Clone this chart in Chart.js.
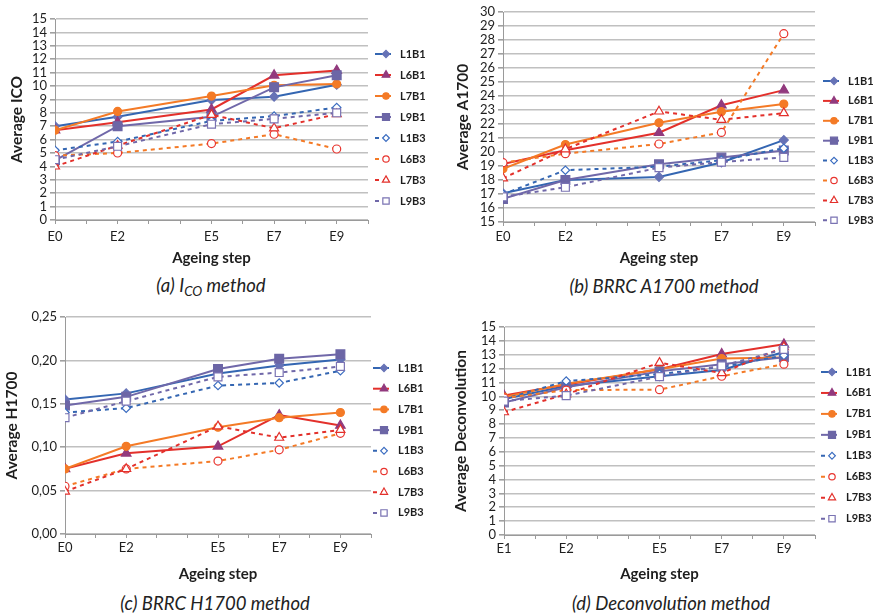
<!DOCTYPE html>
<html>
<head>
<meta charset="utf-8">
<script src="https://cdn.jsdelivr.net/npm/chart.js@4.4.1/dist/chart.umd.min.js"></script>
<style>
  body { margin: 0; background: #fff; }
  #wrap { position: relative; width: 874px; height: 613px; }
  canvas { position: absolute; }
  .cap { position: absolute; font: italic 18.5px Lato, sans-serif; color: #222; transform: translate(-50%, -50%); white-space: nowrap; }
  .cap sub { font-size: 0.72em; vertical-align: -0.3em; line-height: 0; }
</style>
</head>
<body>
<div id="wrap">
  <canvas id="icoChart" width="437" height="267" style="left:0;top:0"></canvas>
  <canvas id="a1700Chart" width="434" height="267" style="left:440px;top:0"></canvas>
  <canvas id="h1700Chart" width="437" height="283" style="left:0;top:300px"></canvas>
  <canvas id="deconvChart" width="434" height="283" style="left:440px;top:300px"></canvas>
  <div class="cap" style="left:211px;top:285px">(a) I<sub>CO</sub> method</div>
  <div class="cap" style="left:664px;top:286px">(b) BRRC A1700 method</div>
  <div class="cap" style="left:215px;top:603px">(c) BRRC H1700 method</div>
  <div class="cap" style="left:671px;top:603px">(d) Deconvolution method</div>
</div>
<script>
const seriesNames = ['L1B1', 'L6B1', 'L7B1', 'L9B1', 'L1B3', 'L6B3', 'L7B3', 'L9B3'];
const stepPos = [0, 2, 5, 7, 9];
const stepLabels = ['E0', 'E2', 'E5', 'E7', 'E9'];
const deconvStepLabels = ['E1', 'E2', 'E5', 'E7', 'E9'];

// one row per series, same order as seriesNames
const icoValues = [
    [7.0, 7.7, 8.95, 9.2, 10.1],
    [6.7, 7.3, 8.25, 10.8, 11.15],
    [6.7, 8.1, 9.25, 10.05, 10.15],
    [4.45, 7.0, 7.7, 9.9, 10.8],
    [5.2, 5.85, 7.4, 7.75, 8.4],
    [4.8, 5.0, 5.7, 6.4, 5.3],
    [4.0, 5.55, 7.85, 6.85, 7.9],
    [4.5, 5.5, 7.15, 7.55, 8.0]
];
const a1700Values = [
    [17.05, 18.0, 18.22, 19.25, 20.85],
    [19.15, 20.12, 21.38, 23.34, 24.42],
    [18.8, 20.53, 22.09, 22.88, 23.43],
    [16.65, 18.0, 19.12, 19.6, 20.1],
    [16.98, 18.7, 18.95, 19.42, 20.27],
    [19.24, 19.88, 20.57, 21.4, 28.45],
    [18.12, 20.2, 22.9, 22.3, 22.78],
    [16.8, 17.48, 18.88, 19.28, 19.62]
];
const h1700Values = [
    [0.155, 0.162, 0.185, 0.194, 0.201],
    [0.075, 0.093, 0.101, 0.137, 0.125],
    [0.075, 0.101, 0.123, 0.134, 0.140],
    [0.148, 0.158, 0.190, 0.202, 0.207],
    [0.140, 0.145, 0.171, 0.174, 0.188],
    [0.055, 0.075, 0.084, 0.097, 0.116],
    [0.049, 0.075, 0.124, 0.111, 0.120],
    [0.134, 0.153, 0.181, 0.186, 0.193]
];
const deconvValues = [
    [9.8, 10.75, 11.45, 11.9, 13.2],
    [10.05, 10.85, 11.95, 13.05, 13.75],
    [9.95, 10.9, 11.95, 12.72, 12.8],
    [9.55, 10.65, 11.8, 12.32, 12.82],
    [9.8, 11.1, 11.6, 12.12, 12.95],
    [9.88, 10.45, 10.48, 11.45, 12.32],
    [8.86, 10.15, 12.42, 11.68, 13.55],
    [9.66, 10.05, 11.42, 12.2, 13.38]
];

const FONT = 'Lato, "Open Sans", sans-serif';
const TEXT = '#1e1e1e';

// line / marker look per series
const seriesStyle = [
    { line: '#3466b2', fill: '#6672b6', edge: '#6672b6', shape: 'rectRot', r: 4.5, dash: [] },
    { line: '#e3302b', fill: '#923a7e', edge: '#923a7e', shape: 'triangle', r: 5.5, dash: [] },
    { line: '#f47a26', fill: '#f47a26', edge: '#f47a26', shape: 'circle', r: 4, dash: [] },
    { line: '#7068a9', fill: '#6c66a6', edge: '#6c66a6', shape: 'rect', r: 6.2, dash: [] },
    { line: '#3466b2', fill: '#ffffff', edge: '#3a6cc0', shape: 'rectRot', r: 4.2, dash: [4, 4] },
    { line: '#f47a26', fill: '#ffffff', edge: '#e8352f', shape: 'circle', r: 4, dash: [4, 4] },
    { line: '#e3302b', fill: '#ffffff', edge: '#e3302b', shape: 'triangle', r: 5.2, dash: [4, 4] },
    { line: '#7068a9', fill: '#ffffff', edge: '#7a73b3', shape: 'rect', r: 5.6, dash: [4, 4] }
];

// legend drawn at the side: short line sample, marker, bold name
const sideLegend = {
    id: 'sideLegend',
    afterDraw(chart, args, opts) {
        const ctx = chart.ctx;
        chart.data.datasets.forEach((ds, i) => {
            const y = opts.top + i * opts.gap;
            const x0 = opts.left;
            ctx.save();
            ctx.strokeStyle = ds.borderColor;
            ctx.lineWidth = 2;
            ctx.setLineDash(ds.borderDash);
            ctx.beginPath();
            ctx.moveTo(x0, y);
            ctx.lineTo(x0 + 16, y);
            ctx.stroke();
            ctx.setLineDash([]);
            ctx.fillStyle = ds.pointBackgroundColor;
            ctx.strokeStyle = ds.pointBorderColor;
            ctx.lineWidth = 1.2;
            Chart.helpers.drawPoint(ctx, { pointStyle: ds.pointStyle, radius: ds.pointRadius * 0.8, rotation: 0, borderWidth: 1.2 }, x0 + 11, y);
            ctx.fillStyle = TEXT;
            ctx.font = 'bold 11px ' + FONT;
            ctx.textBaseline = 'middle';
            ctx.fillText(ds.label, x0 + 25, y);
            ctx.restore();
        });
    }
};

function buildDatasets(values) {
    return values.map((row, i) => {
        const s = seriesStyle[i];
        return {
            label: seriesNames[i],
            data: row.map((v, j) => ({ x: stepPos[j], y: v })),
            borderColor: s.line,
            borderWidth: 2,
            borderDash: s.dash,
            pointStyle: s.shape,
            pointRadius: s.r,
            pointBackgroundColor: s.fill,
            pointBorderColor: s.edge,
            pointBorderWidth: 1.2,
            tension: 0,
            order: 8 - i
        };
    });
}

function makeChart(id, values, xLabels, yTitle, y, box) {
    new Chart(document.getElementById(id).getContext('2d'), {
        type: 'line',
        data: { datasets: buildDatasets(values) },
        plugins: [sideLegend],
        options: {
            responsive: false,
            animation: false,
            devicePixelRatio: 1,
            layout: { padding: { top: box.top, right: box.right, left: 0, bottom: 0 } },
            plugins: {
                legend: { display: false },
                tooltip: { enabled: false },
                sideLegend: { left: box.legendLeft, top: box.legendTop, gap: box.legendGap }
            },
            scales: {
                x: {
                    type: 'linear',
                    min: 0,
                    max: 10,
                    afterFit(scale) { scale.height = box.xHeight; },
                    grid: { drawOnChartArea: false, drawTicks: true, tickLength: 4, tickColor: '#9a9a9a' },
                    border: { color: '#9a9a9a', width: 1 },
                    ticks: {
                        stepSize: 1,
                        autoSkip: false,
                        maxRotation: 0,
                        padding: box.xTickPad,
                        color: TEXT,
                        font: { family: FONT, size: 13 },
                        callback: function(value) {
                            const k = stepPos.indexOf(value);
                            return k >= 0 ? xLabels[k] : '';
                        }
                    },
                    title: {
                        display: true,
                        text: 'Ageing step',
                        color: TEXT,
                        padding: { top: 0, bottom: 0 },
                        font: { family: FONT, size: 15, weight: 'bold' }
                    }
                },
                y: {
                    min: y.min,
                    max: y.max,
                    afterFit(scale) { scale.width = box.yWidth; },
                    grid: { color: '#c0c0c0', lineWidth: 1.6, tickLength: 5, tickColor: '#a0a0a0' },
                    border: { color: '#9a9a9a', width: 1 },
                    ticks: {
                        stepSize: y.step,
                        autoSkip: false,
                        padding: 3,
                        color: TEXT,
                        font: { family: FONT, size: 13 },
                        callback: y.fmt || (v => v)
                    },
                    title: {
                        display: true,
                        text: yTitle,
                        color: TEXT,
                        padding: { top: box.yTitlePad, bottom: 0 },
                        font: { family: FONT, size: 15.5, weight: 'bold' }
                    }
                }
            }
        }
    });
}

makeChart('icoChart', icoValues, stepLabels, 'Average ICO',
    { min: 0, max: 15, step: 1 },
    { top: 19, right: 69, yWidth: 55, xHeight: 47, xTickPad: 5, yTitlePad: 8,
      legendLeft: 375, legendTop: 54, legendGap: 21 });

makeChart('a1700Chart', a1700Values, stepLabels, 'Average A1700',
    { min: 15, max: 30, step: 1 },
    { top: 12, right: 59, yWidth: 63, xHeight: 45, xTickPad: 3, yTitlePad: 14,
      legendLeft: 383, legendTop: 81, legendGap: 19.9 });

makeChart('h1700Chart', h1700Values, stepLabels, 'Average H1700',
    { min: 0, max: 0.25, step: 0.05, fmt: v => v.toFixed(2).replace('.', ',') },
    { top: 17, right: 66, yWidth: 65, xHeight: 49, xTickPad: 2, yTitlePad: 3,
      legendLeft: 373, legendTop: 68, legendGap: 20.7 });

makeChart('deconvChart', deconvValues, deconvStepLabels, 'Average Deconvolution',
    { min: 0, max: 15, step: 1 },
    { top: 27, right: 59, yWidth: 64, xHeight: 48, xTickPad: 2, yTitlePad: 12,
      legendLeft: 381, legendTop: 72, legendGap: 20.95 });
</script>
</body>
</html>
